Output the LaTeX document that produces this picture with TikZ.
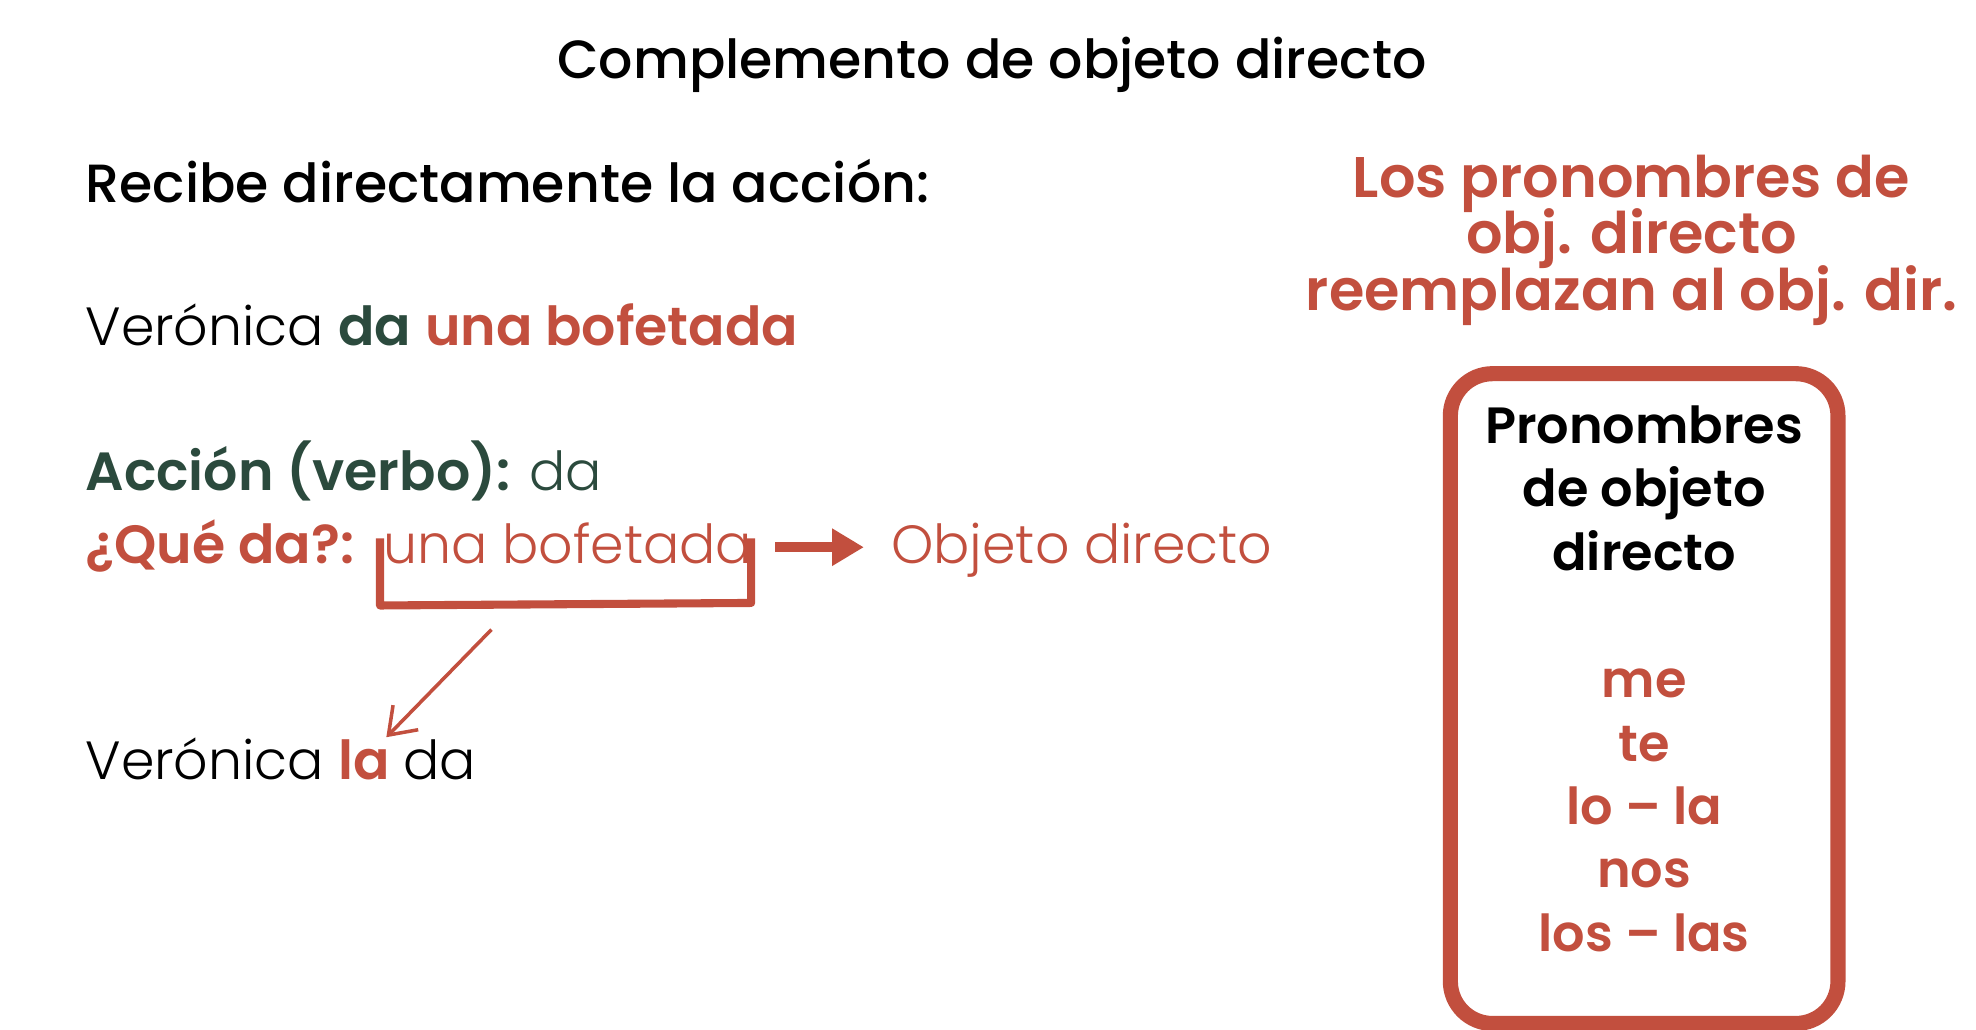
\documentclass[tikz,border=0pt]{standalone}
\usetikzlibrary{arrows.meta}
\usepackage{fontspec}
\setmainfont{Poppins}[UprightFont={* Medium},BoldFont={* SemiBold}]
\newfontfamily\lightf{Poppins}[UprightFont={* Light}]
\definecolor{rd}{HTML}{C24F3E}
\definecolor{gr}{HTML}{2B4A3D}
\begin{document}
\begin{tikzpicture}[x=0.01267cm,y=-0.01267cm,
  big/.style={font=\fontsize{15.3}{18}\selectfont,inner sep=0pt},
  boxt/.style={inner sep=0pt,anchor=base}]
\useasboundingbox (0,0) rectangle (1560,813);
\node[big,anchor=base] (t) at (783,62) {Complemento de objeto directo};
\node[big,anchor=base west] (r) at (67,160) {Recibe directamente la acción:};
\node[big,anchor=base west] (v1) at (67,273) {{\lightf Verónica} \textcolor{gr}{\bfseries da} \textcolor{rd}{\bfseries una bofetada}};
\node[big,anchor=base west] (a) at (67,387) {\textcolor{gr}{\bfseries Acción (verbo):} \textcolor{gr}{\lightf da}};
\node[big,anchor=base west] (q) at (67,445) {\textcolor{rd}{\bfseries ¿Qué da?:}};
\node[big,anchor=base west,text=rd] (ub) at (302,445) {\lightf una bofetada};
\node[big,anchor=base west,text=rd] (od) at (703,445) {\lightf Objeto directo};
\node[big,anchor=base west] (v2) at (67,615) {{\lightf Verónica} \textcolor{rd}{\bfseries la} {\lightf da}};
\draw[rd,line width=2.3pt,line join=round] (300,425) -- (300,478) -- (593,476) -- (593,425);
\coordinate (s) at (612,432); \coordinate (e) at (682,432);
\draw[rd,line width=3pt,-{Triangle[length=9pt,width=10pt]}] (s) -- (e);
\coordinate (b1) at (388,497); \coordinate (b2) at (305,582);
\draw[rd,line width=1pt,-{Straight Barb[length=7pt,width=10pt]}] (b1) -- (b2);
\node[inner sep=0pt,font=\fontsize{16.3}{19}\selectfont\bfseries,text=rd,align=center,anchor=north] (rt) at (1288,122)
  {Los pronombres de\\[-3pt]obj. directo\\[-3pt]reemplazan al obj. dir.};
\draw[rd,line width=4.3pt,rounded corners=12pt] (1145,295) rectangle (1451,808);
\begin{scope}[every node/.style={boxt,font=\fontsize{14.5}{17}\selectfont\bfseries}]
\node at (1298,350) {Pronombres};
\node at (1298,400) {de objeto};
\node at (1298,450) {directo};
\end{scope}
\begin{scope}[every node/.style={boxt,text=rd,font=\fontsize{14.5}{17}\selectfont\bfseries}]
\node at (1298,551) {me};
\node at (1298,601) {te};
\node at (1298,651) {lo – la};
\node at (1298,701) {nos};
\node at (1298,751) {los – las};
\end{scope}
\end{tikzpicture}
\end{document}
